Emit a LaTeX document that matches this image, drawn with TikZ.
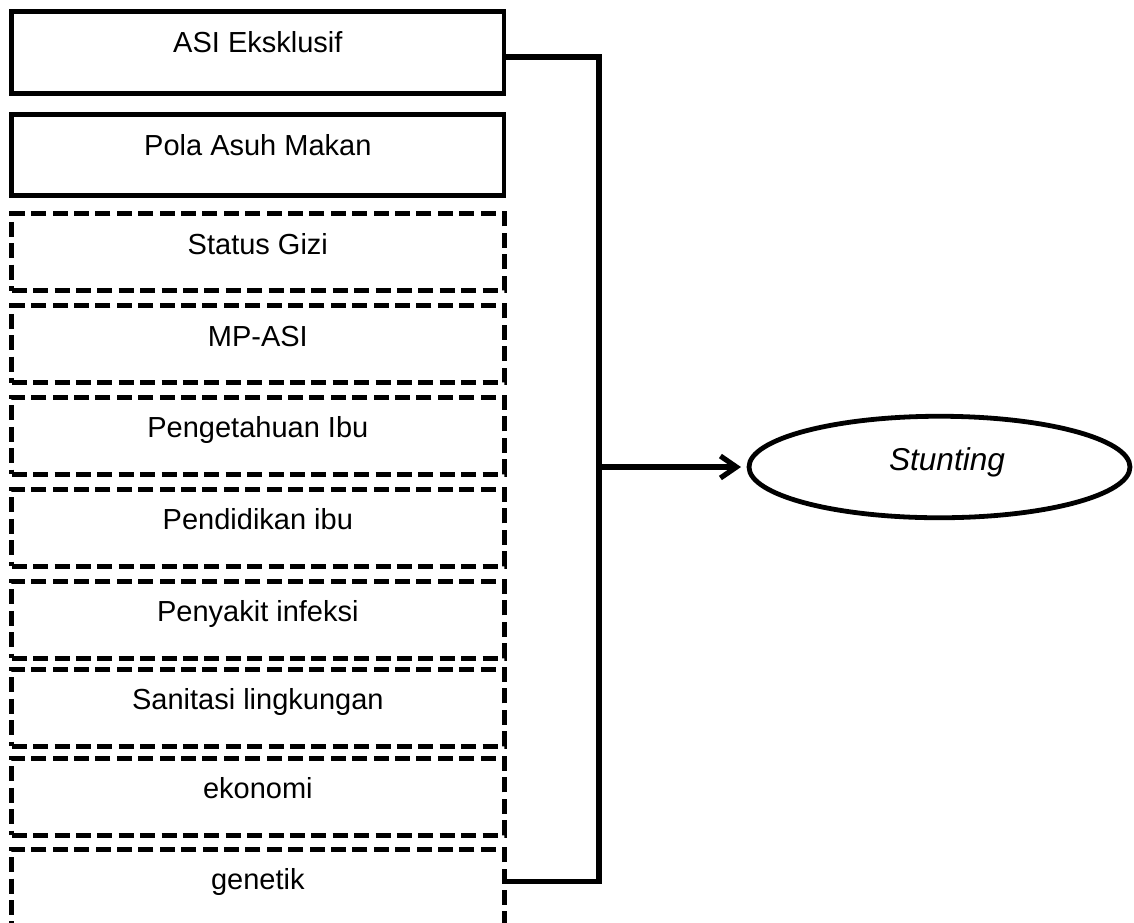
\documentclass[tikz,border=0pt]{standalone}
\usepackage{fontspec}
\setmainfont{Liberation Sans}
\usetikzlibrary{shapes.geometric,arrows.meta,calc}
\begin{document}
\begin{tikzpicture}[x=0.5pt,y=-0.5pt,
  solidbox/.style={draw,line width=2.4pt,rectangle,minimum width=246.15pt,inner sep=0pt,outer sep=0pt,anchor=north},
  dashbox/.style={draw,line width=2.5pt,rectangle,minimum width=246.15pt,minimum height=38.5pt,inner sep=0pt,outer sep=0pt,anchor=north,dash pattern=on 7.5pt off 3.2pt},
  lbl/.style={anchor=base,inner sep=0pt,font=\fontsize{14.5}{17}\selectfont},
  conn/.style={line width=2.6pt},
  endnode/.style={draw,ellipse,line width=2.4pt,minimum width=190.5pt,minimum height=50.75pt,inner sep=0pt,outer sep=0pt}
]
\useasboundingbox (0,0) rectangle (1134,922);
\clip (0,0) rectangle (1134,922);

\node[solidbox,minimum height=40.9pt] (b1) at (257.85,11.7) {};
\node[solidbox,minimum height=40.6pt] (b2) at (257.85,114.5) {};
\node[dashbox] (b3) at (257.85,213.5) {};
\node[dashbox] (b4) at (257.85,305.5) {};
\node[dashbox] (b5) at (257.85,397) {};
\node[dashbox] (b6) at (257.85,489) {};
\node[dashbox] (b7) at (257.85,581) {};
\node[dashbox] (b8) at (257.85,669) {};
\node[dashbox] (b9) at (257.85,758) {};
\node[dashbox,minimum height=60pt] (b10) at (257.85,849) {};

\node[lbl] (t1) at ($(b1.north)+(0,40.5)$) {ASI Eksklusif};
\node[lbl] (t2) at ($(b2.north)+(0,40.5)$) {Pola Asuh Makan};
\node[lbl] (t3) at ($(b3.north)+(0,40.5)$) {Status Gizi};
\node[lbl] (t4) at ($(b4.north)+(0,40.5)$) {MP-ASI};
\node[lbl] (t5) at ($(b5.north)+(0,40.5)$) {Pengetahuan Ibu};
\node[lbl] (t6) at ($(b6.north)+(0,40.5)$) {Pendidikan ibu};
\node[lbl] (t7) at ($(b7.north)+(0,40.5)$) {Penyakit infeksi};
\node[lbl] (t8) at ($(b8.north)+(0,40.5)$) {Sanitasi lingkungan};
\node[lbl] (t9) at ($(b9.north)+(0,40.5)$) {ekonomi};
\node[lbl] (t10) at ($(b10.north)+(0,40.5)$) {genetik};

\node[endnode] (st) at (939.5,467) {};
\node[lbl,font=\fontsize{15.8}{18}\selectfont\itshape] (stl) at (947,470) {Stunting};

\coordinate (jt) at (599,57);
\coordinate (jb) at (599,881.5);
\draw[conn] (b1.east |- jt) -- (jt) -- (jb) -- (b10.east |- jb);
\draw[conn,-{Straight Barb[length=8pt,width=11pt]},shorten >=4pt] (jt |- st.west) -- (st.west);
\end{tikzpicture}
\end{document}
